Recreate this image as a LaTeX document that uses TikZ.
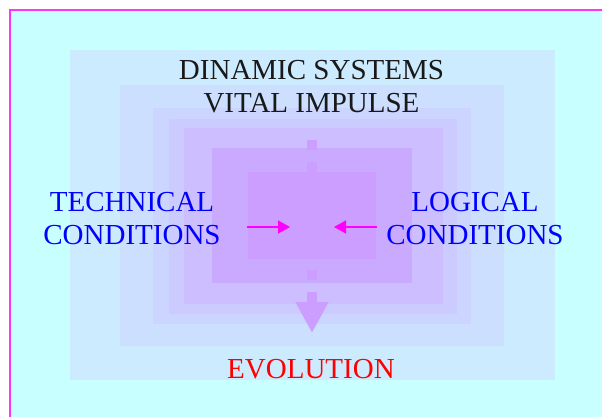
\documentclass[tikz,border=0pt]{standalone}
\usepackage{fontspec}
\setmainfont{Liberation Serif}
\usepackage{xcolor}
\usepackage{tikz}
\usetikzlibrary{arrows.meta, positioning}

\definecolor{sky}{HTML}{C8FFFF}
\definecolor{rim}{HTML}{FF33FF}
\definecolor{pushpink}{HTML}{FF00FF}
\definecolor{shellA}{HTML}{CCEBFF}
\definecolor{shellB}{HTML}{CCDFFF}
\definecolor{shellC}{HTML}{CCD5FF}
\definecolor{shellD}{HTML}{CCCBFF}
\definecolor{shellE}{HTML}{CCBEFF}
\definecolor{shellF}{HTML}{CAAAFF}
\definecolor{shellG}{HTML}{CC9EFF}

\begin{document}
\begin{tikzpicture}[
    x=1bp, y=-1bp,
    caption/.style={inner sep=0pt, align=center, anchor=north, font=\fontsize{29bp}{33bp}\selectfont},
    push/.style={-{Triangle[length=12bp, width=13bp]}, draw=pushpink, line width=1.5bp},
    flow/.style={-{Triangle[length=31bp, width=31bp]}, draw=shellG, line width=10bp, dash pattern=on 10bp off 11.67bp}
]
\useasboundingbox (0,0) rectangle (602,416);
\clip (0,0) rectangle (602,416);

% Frame
\draw[rim, line width=2.5bp, fill=sky] (10,10) rectangle (640,450);

% Nested layers
\foreach \xa/\ya/\xb/\yb/\col in {69.5/50/555/380/shellA, 120/85/504/346/shellB,
    153/108/471/324/shellC, 169/119/457/314/shellD, 183.5/128/442.5/304/shellE,
    212/148/412/283/shellF, 248/172/376/259/shellG} {
    \fill[\col] (\xa,\ya) rectangle (\xb,\yb);
}

% Downward flow
\coordinate (impulse) at (312,140);
\coordinate (outcome) at (312,333);
\draw[flow] (impulse) -- (outcome);

% Labels
\node[caption, text=black!90] (systems) at (311.5,60) {DINAMIC SYSTEMS\\VITAL IMPULSE};
\node[caption, text=blue] (technical) at (132,192) {TECHNICAL\\CONDITIONS};
\node[caption, text=blue] (logical) at (475,192) {LOGICAL\\CONDITIONS};
\node[caption, text=red] (evolution) at (311,359) {EVOLUTION};

% Pushes to the core
\coordinate (techin) at (247,227);
\coordinate (login) at (377,227);
\coordinate (core) at (312,227);
\draw[push] (techin) -- ([xshift=-22bp]core);
\draw[push] (login) -- ([xshift=22bp]core);
\end{tikzpicture}
\end{document}
